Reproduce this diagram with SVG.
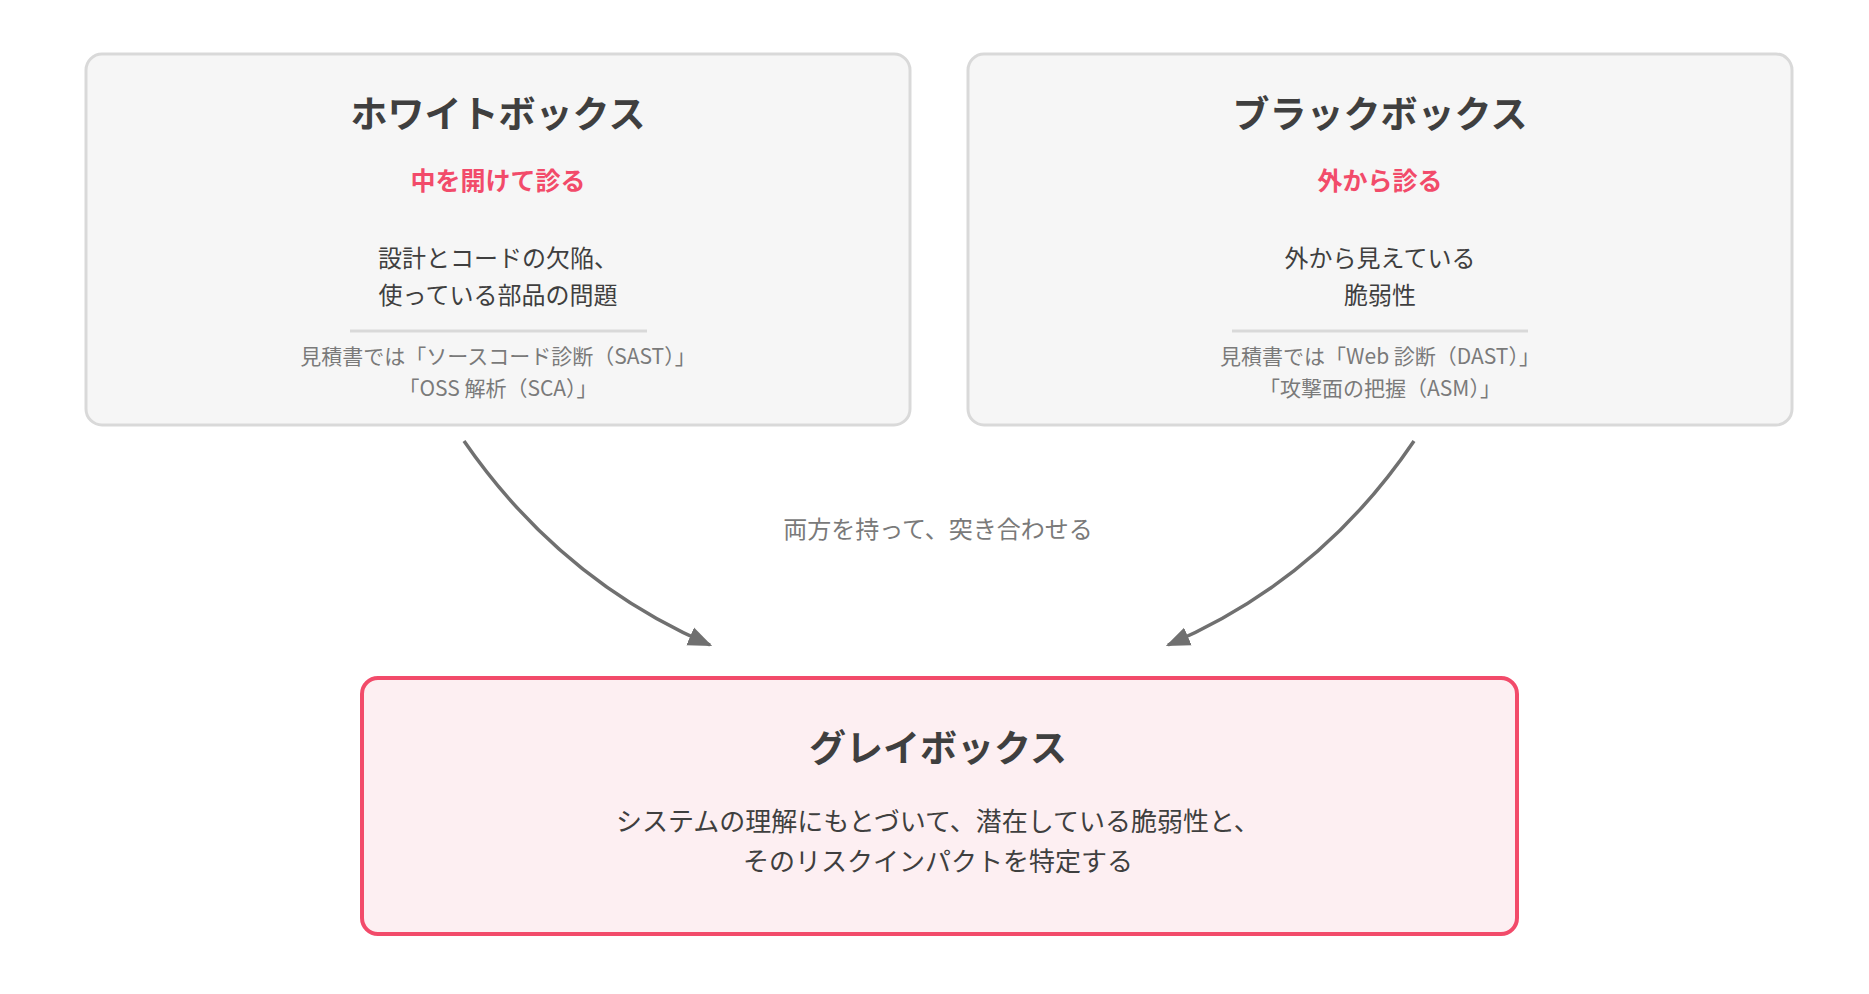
<svg xmlns="http://www.w3.org/2000/svg" width="1869" height="994" viewBox="0 0 1869 994">
<style>
text{font-family:"Noto Sans CJK JP","Noto Sans",sans-serif;text-anchor:middle}
.box{fill:#f6f6f6;stroke:#d9d9d9;stroke-width:3}
.t{font-size:37px;font-weight:bold;fill:#3f3f3f}
.s{font-size:25px;font-weight:bold;fill:#f24b6a}
.b{font-size:24px;fill:#3f3f3f}
.n{font-size:21px;fill:#7a7a7a}
.div{stroke:#d9d9d9;stroke-width:3}
.c{fill:none;stroke:#707070;stroke-width:3.5}
</style>
<defs><marker id="a" markerWidth="10" markerHeight="10" refX="8" refY="5" orient="auto" markerUnits="userSpaceOnUse" viewBox="0 0 10 10"><path d="M0,0L10,5L0,10z" fill="#707070"/></marker>
<marker id="ar" viewBox="0 0 10 10" refX="9" refY="5" markerWidth="24" markerHeight="24" markerUnits="userSpaceOnUse" orient="auto"><path d="M0,1L10,5L0,9z" fill="#707070"/></marker></defs>
<g id="white">
<rect class="box" x="86" y="54" width="824" height="371" rx="16"/>
<text class="t" x="498" y="128">ホワイトボックス</text>
<text class="s" x="498" y="190">中を開けて診る</text>
<text class="b" x="498" y="267">設計とコードの欠陥、</text>
<text class="b" x="498" y="304">使っている部品の問題</text>
<line class="div" x1="350" y1="331" x2="647" y2="331"/>
<text class="n" x="498" y="364">見積書では「ソースコード診断（SAST）」</text>
<text class="n" x="498" y="396">「OSS 解析（SCA）」</text>
</g>
<g id="black">
<rect class="box" x="968" y="54" width="824" height="371" rx="16"/>
<text class="t" x="1380" y="128">ブラックボックス</text>
<text class="s" x="1380" y="190">外から診る</text>
<text class="b" x="1380" y="267">外から見えている</text>
<text class="b" x="1380" y="304">脆弱性</text>
<line class="div" x1="1232" y1="331" x2="1528" y2="331"/>
<text class="n" x="1380" y="364">見積書では「Web 診断（DAST）」</text>
<text class="n" x="1380" y="396">「攻撃面の把握（ASM）」</text>
</g>
<g id="grey">
<rect x="362" y="678" width="1155" height="256" rx="16" fill="#fdeff2" stroke="#f24b6a" stroke-width="4"/>
<text class="t" x="938" y="762">グレイボックス</text>
<text class="b" x="938" y="831" style="font-size:26px">システムの理解にもとづいて、潜在している脆弱性と、</text>
<text class="b" x="938" y="871" style="font-size:26px">そのリスクインパクトを特定する</text>
</g>
<g id="connectors">
<path class="c" d="M464,441 Q560,580 710,645" marker-end="url(#ar)"/>
<path class="c" d="M1414,441 Q1320,580 1168,645" marker-end="url(#ar)"/>
<text class="n" x="938" y="538" style="font-size:24px">両方を持って、突き合わせる</text>
</g>
</svg>
